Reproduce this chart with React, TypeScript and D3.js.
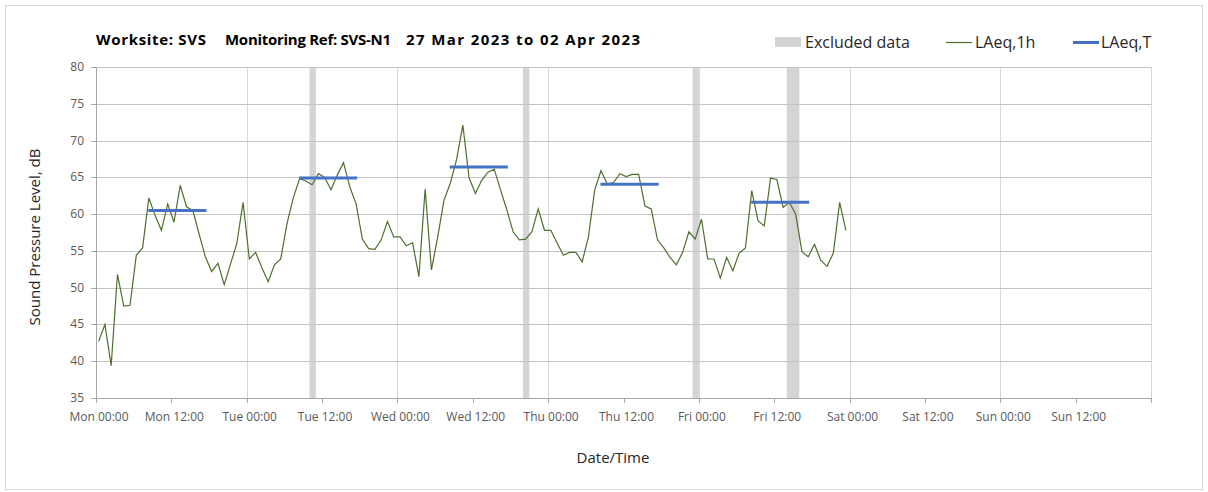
import React from "react";
import * as d3 from "d3";

// ---- data ----
const SERIES_START = "2023-03-27T00:25";
const LAEQ_1H = [
  42.7, 45.0, 39.4, 51.8, 47.5, 47.6, 54.4, 55.4, 62.2, 59.8, 57.8, 61.4, 58.9, 63.9, 61.0, 60.5,
  57.3, 54.2, 52.2, 53.3, 50.4, 53.2, 56.0, 61.6, 53.9, 54.8, 52.7, 50.8, 53.1, 53.9, 58.7, 62.2,
  64.8, 64.5, 64.0, 65.5, 65.0, 63.3, 65.3, 67.0, 63.7, 61.4, 56.6, 55.3, 55.2, 56.5, 59.0, 56.9,
  56.9, 55.7, 56.1, 51.5, 63.4, 52.4, 56.9, 61.9, 64.2, 67.4, 72.1, 64.9, 62.8, 64.6, 65.7, 66.1,
  63.3, 60.6, 57.6, 56.5, 56.6, 57.6, 60.7, 57.8, 57.8, 56.1, 54.4, 54.8, 54.8, 53.5, 56.9, 63.3,
  65.9, 64.1, 64.3, 65.5, 65.1, 65.4, 65.4, 61.1, 60.7, 56.5, 55.4, 54.1, 53.1, 54.8, 57.6, 56.6,
  59.3, 53.9, 53.9, 51.3, 54.1, 52.3, 54.7, 55.4, 63.2, 59.1, 58.4, 64.9, 64.7, 60.9, 61.6, 60.0,
  54.9, 54.2, 55.9, 53.7, 52.9, 54.7, 61.6, 57.8,
];
const LAEQ_T_START = ["2023-03-27T08:20", "2023-03-28T08:20", "2023-03-29T08:20", "2023-03-30T08:20", "2023-03-31T08:20"];
const LAEQ_T_END = ["2023-03-27T17:35", "2023-03-28T17:35", "2023-03-29T17:35", "2023-03-30T17:35", "2023-03-31T17:35"];
const LAEQ_T = [60.5, 64.9, 66.4, 64.05, 61.6];
const EXCLUDED_START = ["2023-03-28T10:00", "2023-03-29T20:00", "2023-03-30T23:00", "2023-03-31T14:00"];
const EXCLUDED_END = ["2023-03-28T11:00", "2023-03-29T21:00", "2023-03-31T00:00", "2023-03-31T16:00"];
const X_DOMAIN = ["2023-03-27T00:00", "2023-04-03T00:00"];
const Y_TICKS = [35, 40, 45, 50, 55, 60, 65, 70, 75, 80];
const X_TICK_FMT = "%a %H:%M";
const TITLE_PARTS = ["Worksite: SVS", "Monitoring Ref: SVS-N1", "27 Mar 2023 to 02 Apr 2023"];

const W = 1208, H = 492;
const M = { left: 96, right: 1151, top: 67, bottom: 398 };
const FONT = "'Open Sans', 'Noto Sans', sans-serif";
const TITLE_X = [96, 225, 406];
const TITLE_W = [110, 166, 234];

export default function App() {
  const x = d3.scaleTime().domain(X_DOMAIN.map((d) => new Date(d))).range([M.left, M.right]);
  const y = d3.scaleLinear().domain([35, 80]).range([M.bottom, M.top]);
  const start = new Date(SERIES_START);
  const pts = LAEQ_1H.map((v, i) => ({ t: d3.timeHour.offset(start, i), v }));
  const line = d3.line<{ t: Date; v: number }>().x((d) => x(d.t)).y((d) => y(d.v));
  const xTicks = d3.timeHour.every(12)!.range(new Date(X_DOMAIN[0]), new Date("2023-04-02T12:01"));
  const dayLines = d3.timeDay.range(new Date("2023-03-28T00:00"), new Date("2023-04-03T00:01"));
  const fmt = d3.timeFormat(X_TICK_FMT);

  return (
    <svg width={W} height={H} style={{ position: "absolute", left: 0, top: 0, background: "#fff" }} fontFamily={FONT}>
      <rect x={5.5} y={5.5} width={1197} height={484} fill="#fff" stroke="#d9d9d9" />
      {/* excluded bands */}
      {EXCLUDED_START.map((s, i) => (
        <rect key={"ex" + i} x={x(new Date(s))} y={M.top} width={x(new Date(EXCLUDED_END[i])) - x(new Date(s))}
          height={M.bottom - M.top} fill="#d4d4d4" />
      ))}
      {/* vertical day gridlines */}
      {dayLines.map((d, i) => (
        <line key={"vg" + i} x1={Math.round(x(d)) + 0.5} x2={Math.round(x(d)) + 0.5} y1={M.top} y2={M.bottom} stroke="#d9d9d9" />
      ))}
      {/* horizontal gridlines */}
      {Y_TICKS.map((t) => (
        <g key={"yg" + t}>
          <line x1={M.left} x2={M.right} y1={Math.round(y(t)) + 0.5} y2={Math.round(y(t)) + 0.5} stroke="#c4c4c4" />
          <line x1={M.left - 5} x2={M.left} y1={Math.round(y(t)) + 0.5} y2={Math.round(y(t)) + 0.5} stroke="#a6a6a6" />
          <text x={84} y={y(t) + 4} textAnchor="end" fontSize={12} fill="#595959">{t}</text>
        </g>
      ))}
      {/* axes */}
      <line x1={M.left + 0.5} x2={M.left + 0.5} y1={M.top} y2={M.bottom} stroke="#a6a6a6" />
      <line x1={M.left} x2={M.right} y1={M.bottom + 0.5} y2={M.bottom + 0.5} stroke="#a6a6a6" />
      {xTicks.map((d, i) => (
        <g key={"xt" + i}>
          <line x1={Math.round(x(d)) + 0.5} x2={Math.round(x(d)) + 0.5} y1={M.bottom} y2={M.bottom + 5} stroke="#a6a6a6" />
          <text x={x(d) + 3} y={421} textAnchor="middle" fontSize={12} fill="#595959">{fmt(d)}</text>
        </g>
      ))}
      <line x1={M.right + 0.5} x2={M.right + 0.5} y1={M.bottom} y2={M.bottom + 5} stroke="#a6a6a6" />
      {/* series */}
      <path d={line(pts) || ""} fill="none" stroke="#4f6f2f" strokeWidth={1.2} />
      {LAEQ_T.map((v, i) => (
        <line key={"lt" + i} x1={x(new Date(LAEQ_T_START[i]))} x2={x(new Date(LAEQ_T_END[i]))} y1={y(v)} y2={y(v)}
          stroke="#4472c4" strokeWidth={3} />
      ))}
      {/* titles */}
      {TITLE_PARTS.map((s, i) => (
        <text key={"ti" + i} x={TITLE_X[i]} y={45} fontSize={15} fontWeight="bold" fill="#000"
          textLength={TITLE_W[i]} lengthAdjust="spacing">{s}</text>
      ))}
      <text transform="translate(40,237) rotate(-90)" textAnchor="middle" fontSize={15} fill="#262626">Sound Pressure Level, dB</text>
      <text x={613} y={463} textAnchor="middle" fontSize={15} fill="#262626">Date/Time</text>
      {/* legend */}
      <rect x={775} y={37} width={26} height={10} fill="#d4d4d4" />
      <text x={805} y={48} fontSize={16} fill="#262626">Excluded data</text>
      <line x1={946} x2={972} y1={42.5} y2={42.5} stroke="#4f6f2f" strokeWidth={1.2} />
      <text x={975} y={48} fontSize={16} fill="#262626">LAeq,1h</text>
      <line x1={1073} x2={1099} y1={42.5} y2={42.5} stroke="#4472c4" strokeWidth={3} />
      <text x={1101} y={48} fontSize={16} fill="#262626">LAeq,T</text>
    </svg>
  );
}
